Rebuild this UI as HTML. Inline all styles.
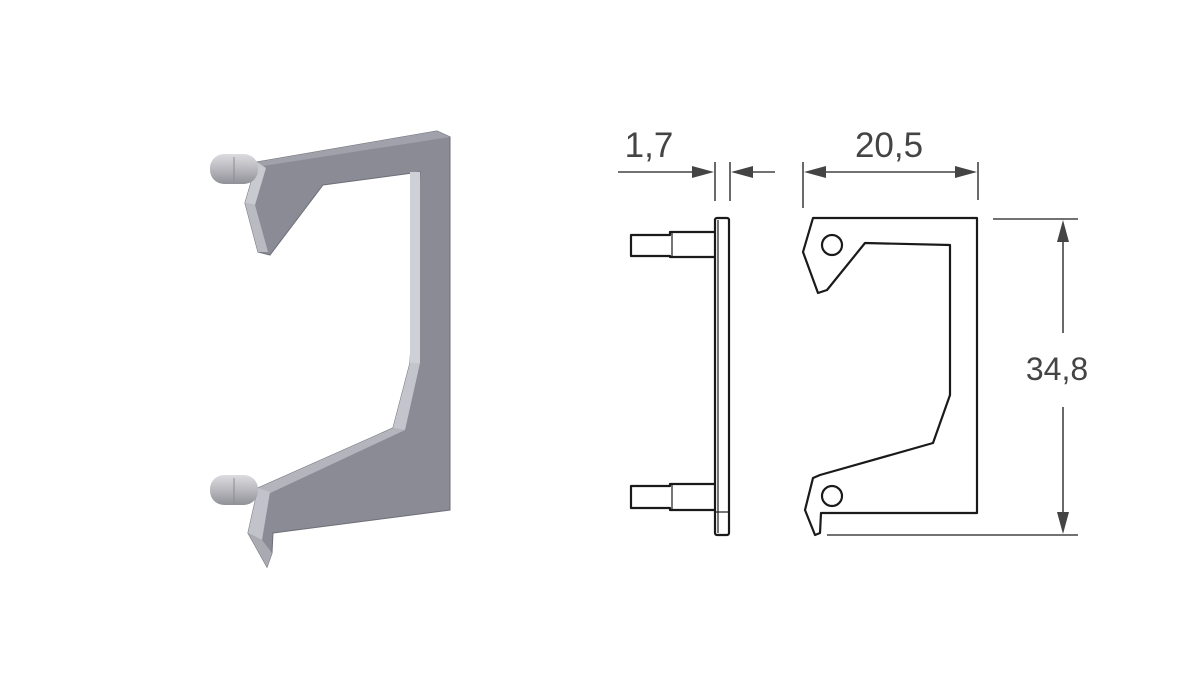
<!DOCTYPE html>
<html><head><meta charset="utf-8"><style>html,body{margin:0;padding:0;background:#fff}svg{display:block}</style></head><body>
<svg width="1200" height="700" viewBox="0 0 1200 700" xmlns="http://www.w3.org/2000/svg">
<defs>
<linearGradient id="pin" x1="0" y1="0" x2="0" y2="1"><stop offset="0" stop-color="#dcdce0"/><stop offset="0.5" stop-color="#b8b8be"/><stop offset="1" stop-color="#909098"/></linearGradient>
</defs>
<!-- 3D view -->
<path d="M257,162 L437,131 L450,137 L450,510 L273,533 L272,553 L267,567 L248,533 L258,488 L393,428 L410,363 L420,172 L323,185 L270,255 L258,252 L245,203 Z" fill="#8a8b95" stroke="#6e6f78" stroke-width="1"/>
<path d="M257,162 L437,131 L450,137 L263,166 Z" fill="#a0a1aa"/>
<path d="M410,172 L420,172 L420,363 L410,363 Z" fill="#cfd0d6"/>
<path d="M410,363 L420,363 L405,430 L393,428 Z" fill="#c4c5cc"/>
<path d="M393,428 L405,430 L266,495 L258,488 Z" fill="#b3b4bc"/>
<path d="M257,162 L266,168 L255,205 L245,203 Z" fill="#c9cad0"/>
<path d="M245,203 L255,205 L268,252 L258,252 Z" fill="#b9bac2"/>
<path d="M258,488 L270,492 L262,540 L248,533 Z" fill="#c2c3ca"/>
<path d="M248,533 L262,540 L272,553 L267,567 Z" fill="#a9aab2"/>
<rect x="210" y="154" width="48" height="30" rx="14" fill="url(#pin)"/>
<rect x="210" y="475" width="48" height="30" rx="14" fill="url(#pin)"/>
<line x1="234" y1="157" x2="234" y2="183" stroke="#8c8c94"/>
<line x1="234" y1="478" x2="234" y2="504" stroke="#8c8c94"/>

<!-- side view -->
<g fill="none" stroke="#1a1a1a" stroke-width="2.2" stroke-linejoin="round">
<rect x="715" y="218" width="14" height="317" rx="2"/>
<line x1="718" y1="220" x2="718" y2="533" stroke-width="1.2"/>
<line x1="715" y1="512" x2="729" y2="512" stroke-width="1.2"/>
<path d="M715,232 L670,232 L670,235 L631,235 L631,256 L670,256 L670,257 L715,257"/>
<line x1="672" y1="233" x2="672" y2="257" stroke-width="1.2"/>
<path d="M715,484 L670,484 L670,486 L631,486 L631,508 L670,508 L670,510 L715,510"/>
<line x1="672" y1="485" x2="672" y2="510" stroke-width="1.2"/>
</g>
<!-- front view -->
<g fill="none" stroke="#1a1a1a" stroke-width="2.2" stroke-linejoin="round">
<path d="M813,218 L977,218 L977,513 L821,513 L820,533 L815,535 L805,510 L813,478 L820,475 L933,443 L950,395 L950,245 L865,243 L827,290 L818,293 L803,252 Z"/>
<circle cx="832" cy="245" r="10"/>
<circle cx="832" cy="496" r="10"/>
</g>
<!-- dims -->
<g stroke="#444" stroke-width="1.6" fill="none">
<line x1="715" y1="162" x2="715" y2="201"/>
<line x1="730" y1="162" x2="730" y2="201"/>
<line x1="618" y1="172" x2="700" y2="172"/>
<line x1="745" y1="172" x2="775" y2="172"/>
<line x1="803" y1="162" x2="803" y2="208"/>
<line x1="978" y1="162" x2="978" y2="200"/>
<line x1="818" y1="172" x2="963" y2="172"/>
<line x1="993" y1="219" x2="1078" y2="219"/>
<line x1="827" y1="535" x2="1078" y2="535"/>
<line x1="1063" y1="234" x2="1063" y2="333"/>
<line x1="1063" y1="407" x2="1063" y2="520"/>
</g>
<g fill="#444">
<path d="M714,172 L692,166 L692,178 Z"/>
<path d="M731,172 L753,166 L753,178 Z"/>
<path d="M804,172 L826,166 L826,178 Z"/>
<path d="M977,172 L955,166 L955,178 Z"/>
<path d="M1063,220 L1057,242 L1069,242 Z"/>
<path d="M1063,534 L1057,512 L1069,512 Z"/>
</g>
<g font-family="Liberation Sans, sans-serif" fill="#444">
<text x="649" y="157" text-anchor="middle" font-size="35">1,7</text>
<text x="889" y="157" text-anchor="middle" font-size="35">20,5</text>
<text x="1057" y="380" text-anchor="middle" font-size="32">34,8</text>
</g>
</svg>
</body></html>
